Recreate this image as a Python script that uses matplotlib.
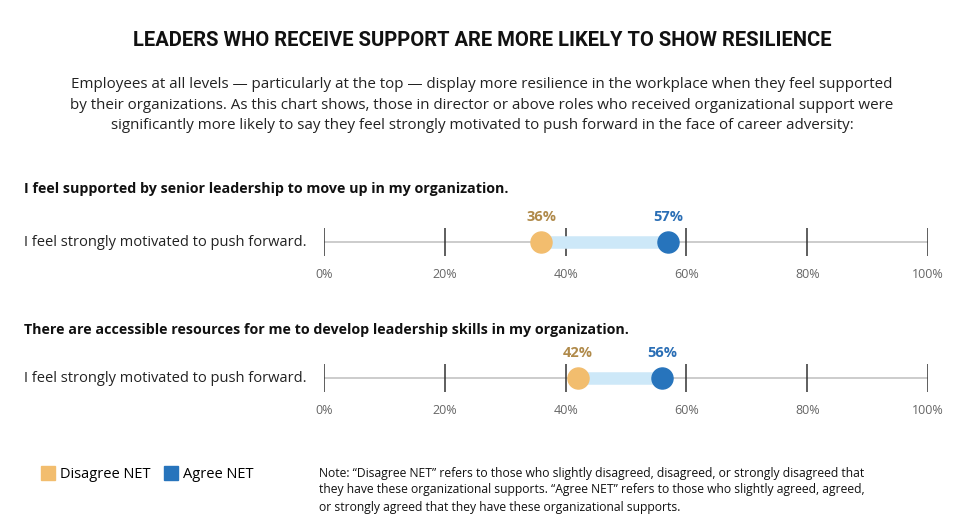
import matplotlib.pyplot as plt
from matplotlib.lines import Line2D

plt.rcParams['font.family'] = ['Open Sans', 'DejaVu Sans']

questions = ['I feel supported by senior leadership to move up in my organization.',
             'There are accessible resources for me to develop leadership skills in my organization.']
row_label = 'I feel strongly motivated to push forward.'
disagree = [36, 42]
agree = [57, 56]
ticks = [0, 20, 40, 60, 80, 100]

W, H = 964, 532
fig = plt.figure(figsize=(W / 100, H / 100), dpi=100)

fig.text(0.5, 1 - 40 / H, 'LEADERS WHO RECEIVE SUPPORT ARE MORE LIKELY TO SHOW RESILIENCE',
         ha='center', va='center', fontsize=14.5, fontweight='bold', color='#111111', family=['Roboto'])
sub = ('Employees at all levels \u2014 particularly at the top \u2014 display more resilience in the workplace when they feel supported\n'
       'by their organizations. As this chart shows, those in director or above roles who received organizational support were\n'
       'significantly more likely to say they feel strongly motivated to push forward in the face of career adversity:')
fig.text(0.5, 1 - 105 / H, sub, ha='center', va='center', fontsize=10.9, color='#222222', linespacing=1.5)

line_y = [242, 378]
q_y = [189, 330]
for i in range(2):
    fig.text(24 / W, 1 - q_y[i] / H, questions[i], ha='left', va='center', fontsize=10.3,
             fontweight='bold', color='#111111')
    fig.text(24 / W, 1 - line_y[i] / H, row_label, ha='left', va='center', fontsize=10.5, color='#222222')
    ax = fig.add_axes([324 / W, 1 - (line_y[i] + 23) / H, 604 / W, 46 / H])
    ax.set_xlim(0, 100)
    ax.set_ylim(-1, 1)
    ax.axis('off')
    ax.plot([0, 100], [0, 0], color='#C8C8C8', lw=1.3, zorder=1)
    ax.vlines(ticks, -0.6, 0.6, color='#333333', lw=1.1, zorder=2)
    for t in ticks:
        ax.text(t, -1.4, f'{t}%', ha='center', va='center', fontsize=9, color='#666666', clip_on=False)
    ax.plot([disagree[i], agree[i]], [0, 0], color='#CDE8F8', lw=9, solid_capstyle='butt', zorder=3)
    ax.scatter([disagree[i]], [0], s=230, color='#F2BD6E', zorder=4, clip_on=False)
    ax.scatter([agree[i]], [0], s=230, color='#2774BC', zorder=4, clip_on=False)
    ax.text(disagree[i], 1.1, f'{disagree[i]}%', ha='center', va='center', fontsize=10.5,
            fontweight='bold', color='#B08A4A', clip_on=False)
    ax.text(agree[i], 1.1, f'{agree[i]}%', ha='center', va='center', fontsize=10.5,
            fontweight='bold', color='#2A6EB5', clip_on=False)

handles = [Line2D([], [], marker='s', ls='', color='#F2BD6E', markersize=10),
           Line2D([], [], marker='s', ls='', color='#2774BC', markersize=10)]
fig.legend(handles, ['Disagree NET', 'Agree NET'], loc='center left', bbox_to_anchor=(28 / W, 1 - 475 / H),
           ncol=2, frameon=False, fontsize=10.5, handletextpad=0.3, columnspacing=0.9, handlelength=1)

note = ('Note: \u201cDisagree NET\u201d refers to those who slightly disagreed, disagreed, or strongly disagreed that\n'
        'they have these organizational supports. \u201cAgree NET\u201d refers to those who slightly agreed, agreed,\n'
        'or strongly agreed that they have these organizational supports.')
fig.text(319 / W, 1 - 490 / H, note, ha='left', va='center', fontsize=8.7, color='#111111', linespacing=1.4)

fig.savefig('out.png', dpi=100)
